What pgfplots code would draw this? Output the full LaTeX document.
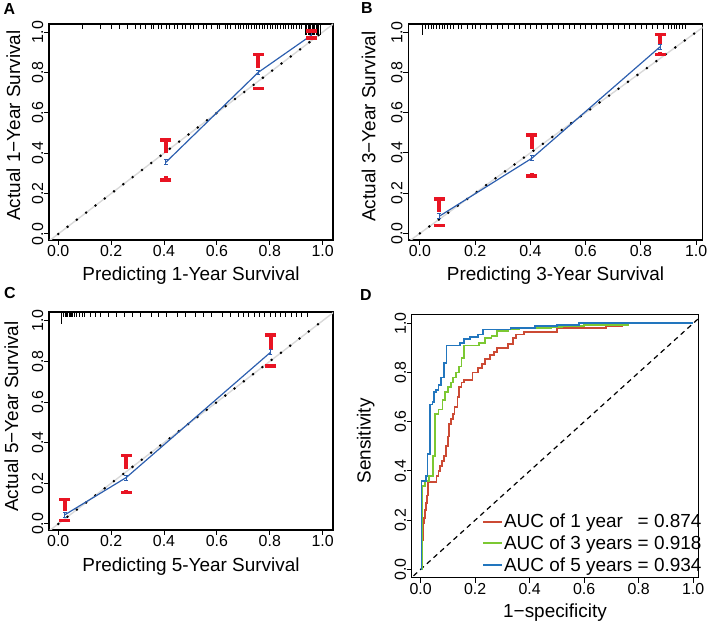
\documentclass[border=0pt]{standalone}
\usepackage{pgfplots}
\pgfplotsset{compat=1.18}
\usepackage{fontspec}
\setmainfont{Liberation Sans}
\definecolor{rocred}{RGB}{204,74,52}
\definecolor{rocgreen}{RGB}{124,200,50}
\definecolor{rocblue}{RGB}{34,118,190}
\definecolor{calred}{RGB}{232,20,35}
\definecolor{calblue}{RGB}{45,95,175}
\pgfplotsset{
  base/.style={
    scale only axis, anchor=south west,
    axis line style={black, line width=1.3bp},
    tick align=outside, xtick pos=bottom, ytick pos=left,
    major tick length=5bp, tick style={black, line width=1bp},
    xtick={0,0.2,0.4,0.6,0.8,1}, ytick={0,0.2,0.4,0.6,0.8,1},
    /pgf/number format/assume math mode=true,
    /pgf/number format/fixed, /pgf/number format/fixed zerofill, /pgf/number format/precision=1,
    tick label style={font=\fontsize{16}{16}\selectfont},
    xticklabel style={anchor=north, inner sep=0.5bp},
    yticklabel style={rotate=90, anchor=south, inner sep=0.5bp},
    every axis x label/.style={at={(axis description cs:0.5,0)}, anchor=base, yshift=-41bp, font=\fontsize{19}{20}\selectfont},
    every axis y label/.style={rotate=90, anchor=base, font=\fontsize{19}{20}\selectfont},
  },
  redbar/.style={calred, line width=4bp, mark=-, mark size=5.5bp, mark options={line width=3.4bp, solid}, mark indices={1}},
  blueline/.style={calblue, line width=1.2bp, mark=none,
    error bars/.cd, y dir=both, y fixed=0.012,
    error bar style={calblue, line width=1bp},
    error mark options={calblue, rotate=90, mark size=1.8bp, line width=1bp}},
  rugs/.style={black, only marks, mark=|, mark size=2.5bp, mark options={line width=0.6bp}},
  rugl/.style={black, only marks, mark=|, mark size=5.5bp, mark options={line width=0.8bp}},
  ideal/.style={gray!30, line width=1.4bp},
  dots/.style={black, line width=2.8bp, line cap=round, dash pattern=on 0pt off 11.7bp},
}
\begin{document}
\begin{tikzpicture}
\path[use as bounding box] (0,0) rectangle (709bp,631bp);
\node[font=\bfseries\fontsize{16}{16}\selectfont] at (9.5bp,622bp) {A};
\node[font=\bfseries\fontsize{16}{16}\selectfont] at (367bp,623bp) {B};
\node[font=\bfseries\fontsize{16}{16}\selectfont] at (10bp,338bp) {C};
\node[font=\bfseries\fontsize{16}{16}\selectfont] at (366bp,336bp) {D};

% ---------------- A ----------------
\begin{axis}[base, at={(49bp,391bp)}, width=284bp, height=216bp,
  xmin=-0.035, xmax=1.039, ymin=-0.03, ymax=1.04,
  xlabel={Predicting 1-Year Survival}, ylabel={Actual 1−Year Survival},
  ylabel style={at={(axis description cs:-0.102,0.53)}}]
\addplot[ideal] coordinates {(-0.1,-0.1) (1.1,1.1)};
\addplot[dots] coordinates {(0,0) (1.01,1.01)};
\addplot[rugs] coordinates {(0.09,1.0276) (0.16,1.0276) (0.20,1.0276) (0.23,1.0276) (0.26,1.0276) (0.29,1.0276) (0.31,1.0276) (0.33,1.0276) (0.35,1.0276) (0.36,1.0276) (0.38,1.0276) (0.39,1.0276) (0.41,1.0276) (0.42,1.0276) (0.44,1.0276) (0.45,1.0276) (0.47,1.0276) (0.48,1.0276) (0.50,1.0276) (0.51,1.0276) (0.53,1.0276) (0.55,1.0276) (0.56,1.0276) (0.58,1.0276) (0.60,1.0276) (0.61,1.0276) (0.63,1.0276) (0.64,1.0276) (0.65,1.0276) (0.67,1.0276) (0.68,1.0276) (0.69,1.0276) (0.70,1.0276) (0.71,1.0276) (0.72,1.0276) (0.73,1.0276) (0.74,1.0276) (0.75,1.0276) (0.76,1.0276) (0.77,1.0276) (0.78,1.0276) (0.79,1.0276) (0.80,1.0276) (0.81,1.0276) (0.82,1.0276) (0.83,1.0276) (0.84,1.0276) (0.85,1.0276) (0.86,1.0276) (0.87,1.0276) (0.88,1.0276) (0.89,1.0276) (0.90,1.0276) (0.91,1.0276) (0.92,1.0276)};
\addplot[rugl] coordinates {(0.935,1.013) (0.94,1.013) (0.945,1.013) (0.95,1.013) (0.955,1.013) (0.96,1.013) (0.965,1.013) (0.97,1.013) (0.975,1.013) (0.98,1.013) (0.985,1.013) (0.99,1.013)};
\addplot[redbar] coordinates {(0.407,0.465) (0.407,0.40)};
\addplot[redbar] coordinates {(0.407,0.267) (0.407,0.285)};
\addplot[redbar] coordinates {(0.756,0.89) (0.756,0.82)};
\addplot[redbar] coordinates {(0.756,0.72) (0.756,0.728)};
\addplot[redbar] coordinates {(0.958,1.005) (0.958,0.99)};
\addplot[redbar] coordinates {(0.958,0.97) (0.958,0.975)};
\addplot[blueline] coordinates {(0.407,0.355) (0.756,0.80) (0.958,0.985)};
\end{axis}

% ---------------- B ----------------
\begin{axis}[base, at={(408.3bp,391bp)}, width=294.4bp, height=216bp,
  xmin=-0.042, xmax=1.024, ymin=-0.033, ymax=1.041,
  xlabel={Predicting 3-Year Survival}, ylabel={Actual 3−Year Survival},
  ylabel style={at={(axis description cs:-0.112,0.525)}}]
\addplot[ideal] coordinates {(-0.1,-0.1) (1.1,1.1)};
\addplot[dots] coordinates {(0,0) (1.01,1.01)};
\addplot[rugl] coordinates {(0.01,1.014)};
\addplot[rugs] coordinates {(0.02,1.0286) (0.03,1.0286) (0.04,1.0286) (0.05,1.0286) (0.06,1.0286) (0.07,1.0286) (0.08,1.0286) (0.09,1.0286) (0.10,1.0286) (0.11,1.0286) (0.12,1.0286) (0.14,1.0286) (0.15,1.0286) (0.17,1.0286) (0.19,1.0286) (0.20,1.0286) (0.22,1.0286) (0.24,1.0286) (0.26,1.0286) (0.28,1.0286) (0.30,1.0286) (0.32,1.0286) (0.34,1.0286) (0.36,1.0286) (0.38,1.0286) (0.40,1.0286) (0.42,1.0286) (0.44,1.0286) (0.46,1.0286) (0.48,1.0286) (0.50,1.0286) (0.52,1.0286) (0.54,1.0286) (0.56,1.0286) (0.58,1.0286) (0.60,1.0286) (0.62,1.0286) (0.64,1.0286) (0.66,1.0286) (0.68,1.0286) (0.70,1.0286) (0.72,1.0286) (0.74,1.0286) (0.76,1.0286) (0.78,1.0286) (0.80,1.0286) (0.82,1.0286) (0.84,1.0286) (0.86,1.0286) (0.88,1.0286) (0.90,1.0286) (0.91,1.0286) (0.92,1.0286) (0.93,1.0286) (0.94,1.0286) (0.95,1.0286) (0.96,1.0286)};
\addplot[redbar] coordinates {(0.07,0.17) (0.07,0.105)};
\addplot[redbar] coordinates {(0.07,0.04) (0.07,0.048)};
\addplot[redbar] coordinates {(0.405,0.49) (0.405,0.42)};
\addplot[redbar] coordinates {(0.405,0.285) (0.405,0.30)};
\addplot[redbar] coordinates {(0.87,0.99) (0.87,0.94)};
\addplot[redbar] coordinates {(0.87,0.89) (0.87,0.90)};
\addplot[blueline] coordinates {(0.07,0.085) (0.405,0.373) (0.87,0.928)};
\end{axis}

% ---------------- C ----------------
\begin{axis}[base, at={(49bp,101bp)}, width=284bp, height=218bp,
  xmin=-0.035, xmax=1.039, ymin=-0.03, ymax=1.043,
  xlabel={Predicting 5-Year Survival}, ylabel={Actual 5−Year Survival},
  ylabel style={at={(axis description cs:-0.109,0.52)}}]
\addplot[ideal] coordinates {(-0.1,-0.1) (1.1,1.1)};
\addplot[dots] coordinates {(0,0) (1.01,1.01)};
\addplot[black, only marks, mark=|, mark size=6bp, mark options={line width=0.8bp}] coordinates {(0.013,1.0135)};
\addplot[rugs] coordinates {(0.02,1.0307) (0.025,1.0307) (0.03,1.0307) (0.035,1.0307) (0.04,1.0307) (0.045,1.0307) (0.05,1.0307) (0.055,1.0307) (0.06,1.0307) (0.07,1.0307) (0.08,1.0307) (0.09,1.0307) (0.10,1.0307) (0.12,1.0307) (0.14,1.0307) (0.16,1.0307) (0.19,1.0307) (0.22,1.0307) (0.25,1.0307) (0.28,1.0307) (0.31,1.0307) (0.35,1.0307) (0.38,1.0307) (0.41,1.0307) (0.45,1.0307) (0.48,1.0307) (0.52,1.0307) (0.55,1.0307) (0.58,1.0307) (0.62,1.0307) (0.65,1.0307) (0.68,1.0307) (0.70,1.0307) (0.72,1.0307) (0.74,1.0307) (0.76,1.0307) (0.78,1.0307) (0.80,1.0307) (0.82,1.0307) (0.84,1.0307) (0.86,1.0307) (0.88,1.0307) (0.90,1.0307) (0.92,1.0307) (0.94,1.0307)};
\addplot[redbar] coordinates {(0.025,0.12) (0.025,0.065)};
\addplot[redbar] coordinates {(0.025,0.016) (0.025,0.025)};
\addplot[redbar] coordinates {(0.257,0.336) (0.257,0.268)};
\addplot[redbar] coordinates {(0.257,0.154) (0.257,0.165)};
\addplot[redbar] coordinates {(0.803,0.93) (0.803,0.858)};
\addplot[redbar] coordinates {(0.803,0.777) (0.803,0.787)};
\addplot[blueline] coordinates {(0.025,0.045) (0.257,0.228) (0.803,0.845)};
\end{axis}

% ---------------- D ----------------
\begin{axis}[base, at={(411.7bp,53.3bp)}, width=286.6bp, height=263.4bp,
  xmin=-0.033, xmax=1.019, ymin=-0.034, ymax=1.037,
  xlabel={1−specificity}, ylabel={Sensitivity},
  every axis x label/.append style={yshift=1.5bp},
  ylabel style={at={(axis description cs:-0.143,0.519)}},
  legend style={at={(axis description cs:0.245,0.015)}, anchor=south west, draw=none, fill=none,
    font=\fontsize{19}{21}\selectfont, inner sep=0pt, row sep=4.5bp,
    nodes={inner sep=1bp}},
  legend cell align=left,
  legend image code/.code={\draw[#1, line width=2bp] (0bp,0bp) -- (19bp,0bp);}]
\addplot[black, line width=1.2bp, dash pattern=on 5bp off 4bp, forget plot] coordinates {(-0.1,-0.1) (1.1,1.1)};
\addplot[rocred, line width=1.8bp] coordinates {(0,0) (0.005,0) (0.005,0.12) (0.008,0.12) (0.008,0.19) (0.012,0.19) (0.012,0.21) (0.016,0.21) (0.016,0.24) (0.02,0.24) (0.02,0.27) (0.024,0.27) (0.024,0.30) (0.028,0.30) (0.028,0.355) (0.058,0.355) (0.058,0.38) (0.065,0.38) (0.065,0.40) (0.07,0.40) (0.07,0.42) (0.078,0.42) (0.078,0.44) (0.085,0.44) (0.085,0.46) (0.092,0.46) (0.092,0.50) (0.10,0.50) (0.10,0.54) (0.105,0.54) (0.105,0.59) (0.112,0.59) (0.112,0.61) (0.118,0.61) (0.118,0.63) (0.124,0.63) (0.124,0.66) (0.135,0.66) (0.135,0.70) (0.142,0.70) (0.142,0.74) (0.15,0.74) (0.15,0.76) (0.16,0.76) (0.16,0.77) (0.19,0.77) (0.19,0.80) (0.21,0.80) (0.21,0.82) (0.225,0.82) (0.225,0.835) (0.235,0.835) (0.235,0.855) (0.255,0.855) (0.255,0.87) (0.27,0.87) (0.27,0.885) (0.28,0.885) (0.28,0.90) (0.32,0.90) (0.32,0.915) (0.34,0.915) (0.34,0.94) (0.35,0.94) (0.35,0.955) (0.38,0.955) (0.38,0.965) (0.50,0.965) (0.50,0.98) (0.68,0.98) (0.68,0.99) (0.74,0.99) (0.74,1.0) (1,1)};
\addlegendentry{\makebox[7.06em][l]{AUC of 1 year}= 0.874}
\addplot[rocgreen, line width=1.8bp] coordinates {(0,0) (0.005,0) (0.005,0.34) (0.015,0.34) (0.015,0.36) (0.03,0.36) (0.03,0.38) (0.045,0.38) (0.045,0.46) (0.052,0.46) (0.052,0.63) (0.065,0.63) (0.065,0.65) (0.08,0.65) (0.08,0.69) (0.09,0.69) (0.09,0.72) (0.10,0.72) (0.10,0.74) (0.11,0.74) (0.11,0.76) (0.12,0.76) (0.12,0.78) (0.13,0.78) (0.13,0.80) (0.14,0.80) (0.14,0.825) (0.15,0.825) (0.15,0.86) (0.16,0.86) (0.16,0.91) (0.215,0.91) (0.215,0.92) (0.235,0.92) (0.235,0.94) (0.26,0.94) (0.26,0.95) (0.28,0.95) (0.28,0.97) (0.32,0.97) (0.32,0.975) (0.36,0.975) (0.36,0.98) (0.48,0.98) (0.48,0.985) (0.52,0.985) (0.52,0.99) (0.60,0.99) (0.60,0.995) (0.76,0.995) (0.76,1.0) (1,1)};
\addlegendentry{\makebox[7.06em][l]{AUC of 3 years}= 0.918}
\addplot[rocblue, line width=1.8bp] coordinates {(0,0) (0.003,0) (0.003,0.36) (0.02,0.36) (0.02,0.38) (0.025,0.38) (0.025,0.47) (0.033,0.47) (0.033,0.67) (0.043,0.67) (0.043,0.68) (0.05,0.68) (0.05,0.72) (0.055,0.72) (0.055,0.73) (0.065,0.73) (0.065,0.75) (0.075,0.75) (0.075,0.78) (0.085,0.78) (0.085,0.84) (0.095,0.84) (0.095,0.91) (0.145,0.91) (0.145,0.92) (0.16,0.92) (0.16,0.935) (0.18,0.935) (0.18,0.945) (0.21,0.945) (0.21,0.955) (0.23,0.955) (0.23,0.975) (0.33,0.975) (0.33,0.98) (0.42,0.98) (0.42,0.99) (0.50,0.99) (0.50,0.995) (0.58,0.995) (0.58,1.0) (1,1)};
\addlegendentry{\makebox[7.06em][l]{AUC of 5 years}= 0.934}
\end{axis}
\end{tikzpicture}
\end{document}
